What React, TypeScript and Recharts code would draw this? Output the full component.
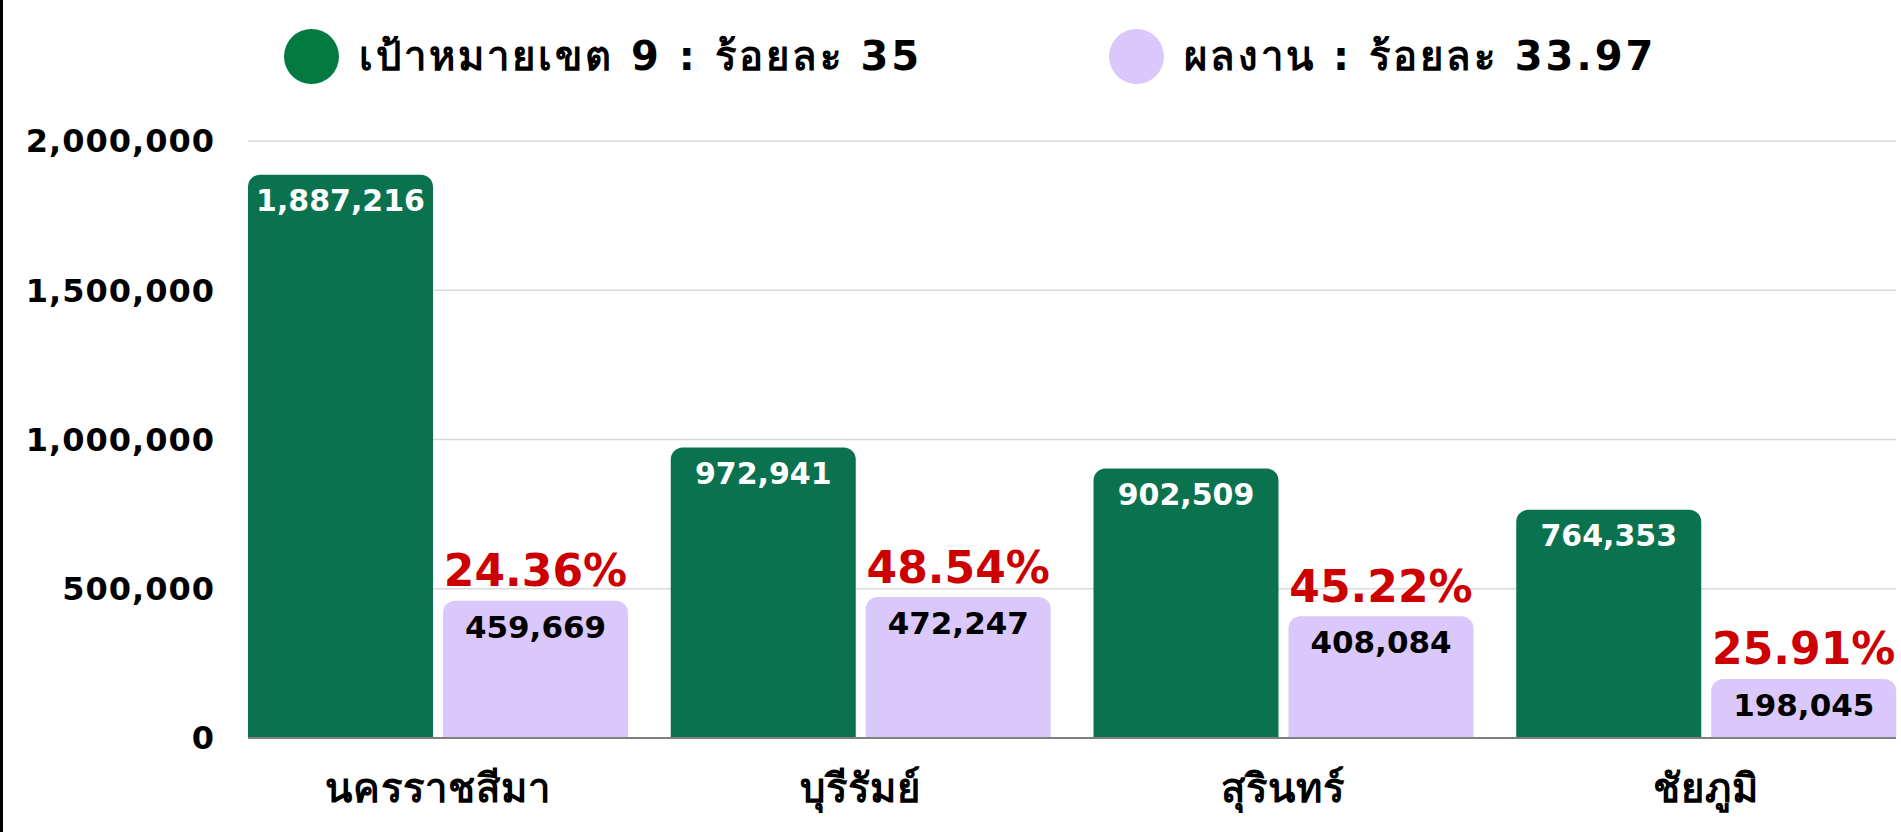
import { Bar, BarChart, CartesianGrid, LabelList, Legend, XAxis, YAxis } from 'recharts';

const provinces = ['นครราชสีมา', 'บุรีรัมย์', 'สุรินทร์', 'ชัยภูมิ'];
const targets = [1887216, 972941, 902509, 764353];
const results = [459669, 472247, 408084, 198045];
const percents = [24.36, 48.54, 45.22, 25.91];
const yTicks = [0, 500000, 1000000, 1500000, 2000000];

const legendItems = [
    { label: 'เป้าหมายเขต 9 : ร้อยละ 35', color: '#037b40', left: 284 },
    { label: 'ผลงาน : ร้อยละ 33.97', color: '#d9c8f9', left: 1109 },
];

const data = provinces.map((name, i) => ({
    name,
    target: targets[i],
    result: results[i],
    pct: percents[i],
}));

const FONT = '"DejaVu Sans", "Noto Sans", sans-serif';
const fmt = (v: number) => v.toLocaleString('en-US');

function LegendBox() {
    return (
        <div style={{ position: 'relative', width: 1901, height: 60, fontFamily: FONT }}>
            {legendItems.map((item) => (
                <div
                    key={item.label}
                    style={{ position: 'absolute', left: item.left, top: 0, display: 'flex', alignItems: 'center', gap: 20 }}
                >
                    <span style={{ width: 55, height: 55, borderRadius: '50%', background: item.color, display: 'inline-block' }} />
                    <span style={{ fontSize: 40, fontWeight: 700, letterSpacing: 3, color: '#000', whiteSpace: 'nowrap' }}>
                        {item.label}
                    </span>
                </div>
            ))}
        </div>
    );
}

export default function App() {
    return (
        <div style={{ position: 'fixed', left: 0, top: 0, width: 1901, height: 832, background: '#fff', overflow: 'hidden' }}>
            <div style={{ position: 'absolute', left: 0, top: 0, width: 3, height: 832, background: '#000' }} />
            <BarChart
                width={1901}
                height={832}
                data={data}
                margin={{ top: 141, right: 5, left: 0, bottom: 0 }}
                barCategoryGap={21.5}
                barGap={10}
            >
                <CartesianGrid stroke="#d9d9d9" strokeWidth={1.5} vertical={false} />
                <XAxis
                    dataKey="name"
                    height={94}
                    padding={{ left: -21.5, right: -21.5 }}
                    axisLine={{ stroke: '#7f7f7f', strokeWidth: 2 }}
                    tickLine={false}
                    tickSize={0}
                    tickMargin={0}
                    interval={0}
                    tick={({ x, y, payload }) => (
                        <text
                            x={x}
                            y={y + 50}
                            textAnchor="middle"
                            dominantBaseline="central"
                            fontFamily={FONT}
                            fontSize={40}
                            fontWeight={700}
                            letterSpacing={1}
                            fill="#000"
                        >
                            {payload.value}
                        </text>
                    )}
                />
                <YAxis
                    width={248}
                    domain={[0, 2000000]}
                    ticks={yTicks}
                    axisLine={false}
                    tickLine={false}
                    tickSize={0}
                    tickMargin={33}
                    tickFormatter={fmt}
                    tick={{ fontFamily: FONT, fontSize: 32, fontWeight: 700, fill: '#000', letterSpacing: 1 }}
                />
                <Legend
                    layout="horizontal"
                    verticalAlign="middle"
                    align="center"
                    wrapperStyle={{ top: 24, left: 0, width: 1901 }}
                    content={() => <LegendBox />}
                />
                <Bar dataKey="target" fill="#0b7250" radius={[12, 12, 0, 0]} isAnimationActive={false}>
                    <LabelList
                        dataKey="target"
                        content={({ x, y, width, value }) => (
                            <text
                                x={Number(x) + Number(width) / 2}
                                y={Number(y) + 26}
                                textAnchor="middle"
                                dominantBaseline="central"
                                fontFamily={FONT}
                                fontSize={30}
                                fontWeight={700}
                                fill="#fff"
                            >
                                {fmt(Number(value))}
                            </text>
                        )}
                    />
                </Bar>
                <Bar dataKey="result" fill="#d9c8f9" radius={[12, 12, 0, 0]} isAnimationActive={false}>
                    <LabelList
                        dataKey="result"
                        content={({ x, y, width, value }) => (
                            <text
                                x={Number(x) + Number(width) / 2}
                                y={Number(y) + 26}
                                textAnchor="middle"
                                dominantBaseline="central"
                                fontFamily={FONT}
                                fontSize={31}
                                fontWeight={700}
                                fill="#000"
                            >
                                {fmt(Number(value))}
                            </text>
                        )}
                    />
                    <LabelList
                        dataKey="pct"
                        content={({ x, y, width, value }) => (
                            <text
                                x={Number(x) + Number(width) / 2}
                                y={Number(y) - 30}
                                textAnchor="middle"
                                dominantBaseline="central"
                                fontFamily={FONT}
                                fontSize={44}
                                fontWeight={700}
                                fill="#cc0000"
                            >
                                {Number(value).toFixed(2)}%
                            </text>
                        )}
                    />
                </Bar>
            </BarChart>
        </div>
    );
}
